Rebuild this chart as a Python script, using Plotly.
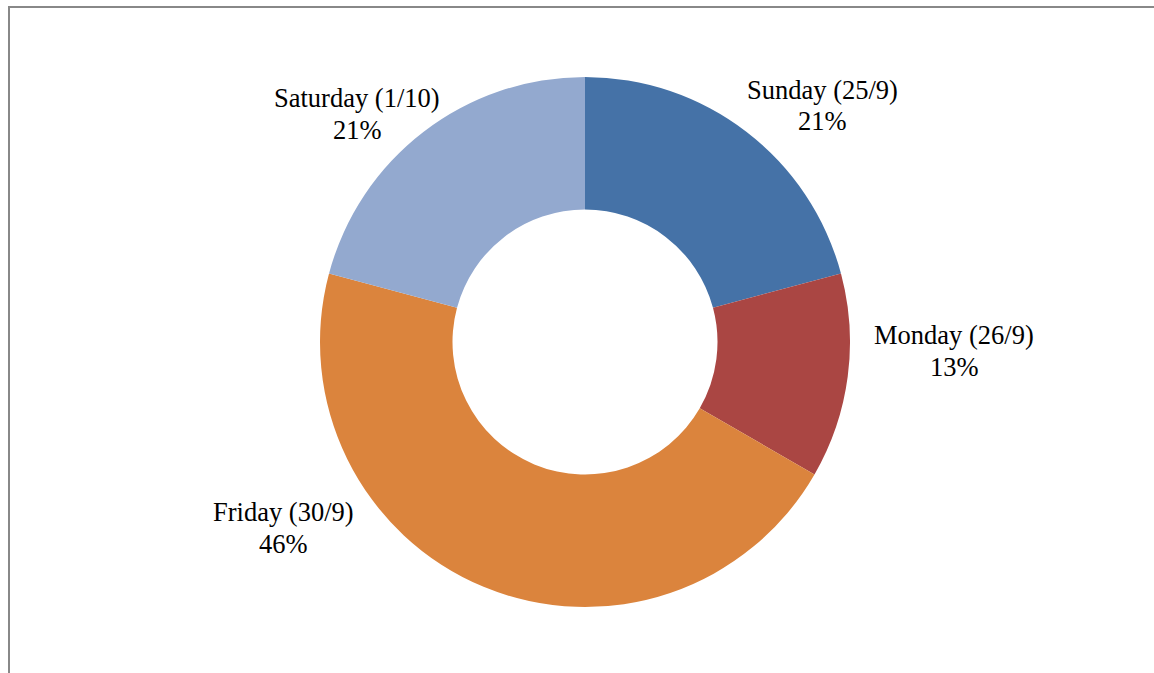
import math
import plotly.graph_objects as go

days = ["Sunday (25/9)", "Monday (26/9)", "Friday (30/9)", "Saturday (1/10)"]
values = [5, 3, 11, 5]
colors = ["#4572A7", "#AA4643", "#DB843D", "#93A9CF"]

W, H = 1154, 673
total = sum(values)
pct_labels = [f"{math.floor(v / total * 100 + 0.5)}%" for v in values]

# label positions in pixels (name line, percent line)
label_pos = [(822, 90, 121), (954, 335, 367), (283, 512, 544), (357, 98, 130)]

fig = go.Figure(go.Pie(
    labels=days,
    values=values,
    marker=dict(colors=colors, line=dict(width=0)),
    hole=0.5,
    sort=False,
    direction="clockwise",
    rotation=0,
    textinfo="none",
    hoverinfo="label+percent",
    showlegend=False,
    domain=dict(x=[320 / W, 850 / W], y=[1 - 607 / H, 1 - 77 / H]),
))

font = dict(family="Liberation Serif, Times New Roman, serif", size=26.5, color="#000000")
annotations = []
for name, pct, (x, y1, y2) in zip(days, pct_labels, label_pos):
    annotations.append(dict(text=name, x=x / W, y=1 - y1 / H, xref="paper", yref="paper",
                            showarrow=False, xanchor="center", yanchor="middle", font=font))
    annotations.append(dict(text=pct, x=x / W, y=1 - y2 / H, xref="paper", yref="paper",
                            showarrow=False, xanchor="center", yanchor="middle", font=font))

fig.update_layout(
    width=W, height=H,
    margin=dict(l=0, r=0, t=0, b=0),
    paper_bgcolor="white", plot_bgcolor="white",
    annotations=annotations,
    shapes=[dict(type="rect", xref="paper", yref="paper",
                 x0=9 / W, x1=1.05, y0=-0.05, y1=1 - 7 / H,
                 line=dict(color="#888888", width=2), fillcolor="rgba(0,0,0,0)")],
)

fig.write_html(
    "out.html",
    config={"displayModeBar": False},
    post_script="document.body.style.margin='0';document.body.style.overflow='hidden';",
)
